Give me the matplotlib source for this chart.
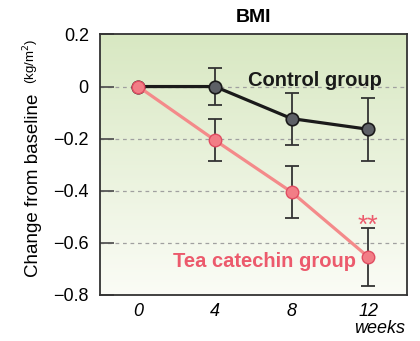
import numpy as np
import matplotlib
matplotlib.use("Agg")
import matplotlib.pyplot as plt
from matplotlib.colors import LinearSegmentedColormap

plt.rcParams['font.family'] = ['Liberation Sans', 'DejaVu Sans']

weeks = [0, 4, 8, 12]
control = [0.0, 0.0, -0.123, -0.164]
control_err = [0.0, 0.07, 0.10, 0.12]
tea = [0.0, -0.206, -0.405, -0.654]
tea_err = [0.0, 0.08, 0.10, 0.11]
yticks = [0.2, 0, -0.2, -0.4, -0.6, -0.8]
ytick_labels = ['0.2', '0', '\u22120.2', '\u22120.4', '\u22120.6', '\u22120.8']
xtick_labels = ['0', '4', '8', '12']

fig = plt.figure(figsize=(4.2, 3.41), dpi=100)
ax = fig.add_axes([0.238, 0.135, 0.730, 0.764])
ax.set_xlim(-2, 14)
ax.set_ylim(-0.8, 0.2)

# gradient background
cmap = LinearSegmentedColormap.from_list('bg', ['#fbfcf6', '#d8e8c2'])
grad = np.linspace(0, 1, 256).reshape(-1, 1)
ax.imshow(grad, aspect='auto', cmap=cmap, origin='lower',
          extent=[0, 1, 0, 1], transform=ax.transAxes, zorder=0)

for y in [0, -0.2, -0.4, -0.6]:
    ax.axhline(y, color='#a0a0a0', lw=0.9, ls=(0, (3, 3)), zorder=1)

ecol = '#333333'
ax.errorbar(weeks[1:], control[1:], yerr=control_err[1:], fmt='none',
            ecolor=ecol, elinewidth=1.3, capsize=5, capthick=1.3, zorder=2)
ax.errorbar(weeks[1:], tea[1:], yerr=tea_err[1:], fmt='none',
            ecolor=ecol, elinewidth=1.3, capsize=5, capthick=1.3, zorder=2)

ax.plot(weeks, control, color='#1a1a1a', lw=2.3, marker='o', ms=9,
        mfc='#5d6066', mec='#1a1a1a', mew=1.2, zorder=3)
ax.plot(weeks, tea, color='#f48a8a', lw=2.3, marker='o', ms=9,
        mfc='#f27d86', mec='#e04d62', mew=1.0, zorder=4)

ax.text(9.2, 0.022, 'Control group', fontsize=14.5, fontweight='bold',
        color='#1a1a1a', ha='center', va='center', zorder=5)
ax.text(6.57, -0.672, 'Tea catechin group', fontsize=14.5, fontweight='bold',
        color='#ec5a6c', ha='center', va='center', zorder=5)
ax.text(12, -0.535, '**', fontsize=19, color='#ec5a6c', ha='center',
        va='center', zorder=5)

ax.set_yticks(yticks)
ax.set_yticklabels(ytick_labels, fontsize=13)
ax.set_xticks(weeks)
ax.set_xticklabels(xtick_labels, fontsize=13, style='italic')
ax.tick_params(axis='y', direction='in', length=10, width=1.3,
               color='#555555', pad=8)
ax.tick_params(axis='x', length=0, pad=6)
for s in ax.spines.values():
    s.set_color('#333333')
    s.set_linewidth(1.3)

ax.set_title('BMI', fontsize=14, fontweight='bold', pad=9)
fig.text(0.905, 0.036, 'weeks', fontsize=13, style='italic',
         ha='center', va='center')

fig.text(0.079, 0.457, 'Change from baseline', fontsize=13.5, rotation=90,
         ha='center', va='center')
fig.text(0.074, 0.82, '(kg/m$^2$)', fontsize=9.5, rotation=90,
         ha='center', va='center')

fig.savefig('out.png', dpi=100)
